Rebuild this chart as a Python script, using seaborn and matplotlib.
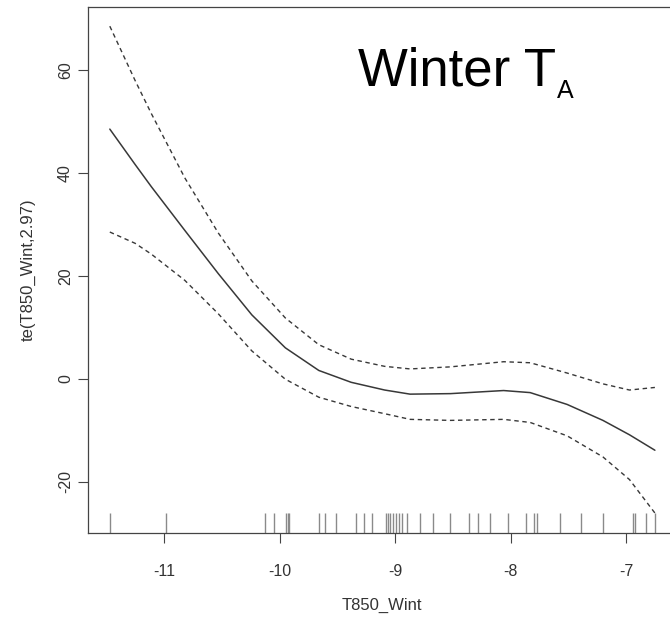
import matplotlib
matplotlib.use("Agg")
import matplotlib.pyplot as plt
import seaborn as sns

# ---- data ----
t850 = [-11.47, -11.25, -11.11, -10.82, -10.53, -10.24, -9.95, -9.66, -9.38, -9.09,
        -8.87, -8.52, -8.06, -7.83, -7.51, -7.20, -6.97, -6.75]
fit = [48.5, 41.6, 37.3, 28.8, 20.4, 12.4, 6.0, 1.6, -0.7, -2.2,
       -3.0, -2.9, -2.3, -2.7, -5.0, -8.1, -10.9, -13.9]
upper = [68.5, 57.9, 51.5, 39.0, 28.3, 19.0, 11.8, 6.6, 3.8, 2.4,
         1.9, 2.3, 3.3, 3.1, 1.1, -1.0, -2.2, -1.7]
lower = [28.5, 26.3, 24.2, 19.1, 12.6, 5.4, -0.1, -3.6, -5.4, -6.8,
         -7.9, -8.1, -7.9, -8.5, -11.1, -15.2, -19.6, -26.1]
rug_x = [-11.47, -10.98, -10.13, -10.05, -9.94, -9.93, -9.92, -9.66, -9.61, -9.51,
         -9.34, -9.27, -9.20, -9.08, -9.06, -9.04, -9.02, -8.99, -8.97, -8.94,
         -8.90, -8.78, -8.67, -8.52, -8.36, -8.28, -8.18, -8.02, -7.87, -7.80,
         -7.77, -7.57, -7.39, -7.20, -6.94, -6.92, -6.83, -6.75]
x_ticks = [-11, -10, -9, -8, -7]
y_ticks = [-20, 0, 20, 40, 60]
x_label = "T850_Wint"
y_label = "te(T850_Wint,2.97)"
title_main = "Winter T"
title_sub = "A"

sns.set_theme(style="ticks")
plt.rcParams["font.family"] = ["Liberation Sans", "DejaVu Sans"]

W, H = 670, 620
fig = plt.figure(figsize=(W / 100, H / 100), dpi=100)
fig.patch.set_facecolor("white")
left_px, right_px, top_px, bottom_px = 88, 676.7, 6.7, 532.5
ax = fig.add_axes([left_px / W, (H - bottom_px) / H,
                   (right_px - left_px) / W, (bottom_px - top_px) / H])
ax.set_facecolor("white")

line_col = "#383838"
sns.lineplot(x=t850, y=fit, ax=ax, color=line_col, lw=1.1, sort=False)
sns.lineplot(x=t850, y=upper, ax=ax, color=line_col, lw=1.0, sort=False)
ax.lines[-1].set_dashes((3.2, 2.6))
sns.lineplot(x=t850, y=lower, ax=ax, color=line_col, lw=1.0, sort=False)
ax.lines[-1].set_dashes((3.2, 2.6))
for ln in ax.lines:
    ln.set_solid_joinstyle("round")
    ln.set_dash_joinstyle("round")

sns.rugplot(x=rug_x, height=0.038, color="#8a8a8a", lw=0.9, ax=ax,
            expand_margins=False)

# R-style 4% padding around the data range
xmin, xmax = min(t850), max(t850)
ymin, ymax = min(lower), max(upper)
xp, yp = 0.04 * (xmax - xmin), 0.04 * (ymax - ymin)
ax.set_xlim(xmin - xp, xmax + xp)
ax.set_ylim(ymin - yp, ymax + yp)

ax.set_xticks(x_ticks)
ax.set_xticklabels([str(v) for v in x_ticks])
ax.set_yticks(y_ticks)
ax.set_yticklabels([str(v) for v in y_ticks], rotation=90, va="center")

ax.tick_params(axis="both", direction="out", length=7.2, width=0.8,
               color="#444444", labelcolor="#333333", labelsize=11.5)
ax.tick_params(axis="x", pad=15.5)
ax.tick_params(axis="y", pad=3.6)

for s in ax.spines.values():
    s.set_visible(True)
    s.set_color("#444444")
    s.set_linewidth(0.9)

ax.set_xlabel(x_label, fontsize=12, color="#333333")
ax.set_ylabel(y_label, fontsize=12, color="#333333")
ax.xaxis.set_label_coords(0.5, -0.1236)
ax.yaxis.set_label_coords((36 - left_px) / (right_px - left_px), 0.5)

fig.text(358 / W, (H - 85) / H, title_main, fontsize=38, color="black",
         ha="left", va="baseline")
fig.text(557 / W, (H - 98) / H, title_sub, fontsize=18, color="black",
         ha="left", va="baseline")

fig.savefig("out.png", dpi=100, facecolor="white")
